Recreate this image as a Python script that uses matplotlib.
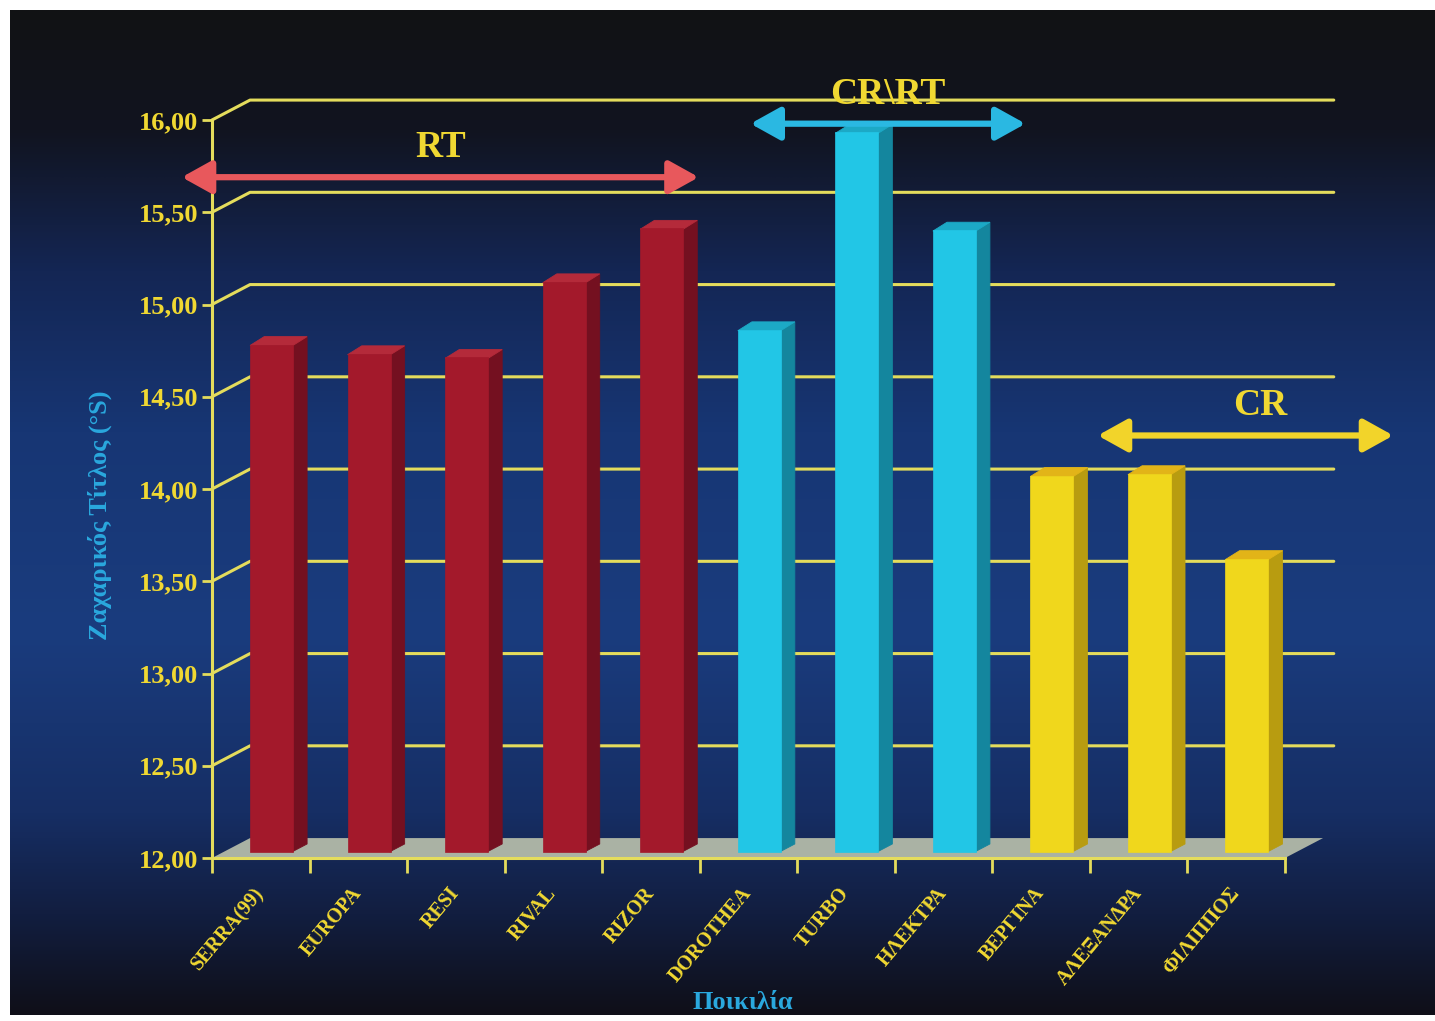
import numpy as np
import matplotlib
matplotlib.use("Agg")
import matplotlib.pyplot as plt
from matplotlib.patches import Polygon, FancyArrowPatch
from matplotlib.ticker import FuncFormatter, FixedLocator

# Data
varieties = ['SERRA(99)', 'EUROPA', 'RESI', 'RIVAL', 'RIZOR', 'DOROTHEA',
             'TURBO', 'ΗΛΕΚΤΡΑ', 'ΒΕΡΓΙΝΑ', 'ΑΛΕΞΑΝΔΡΑ', 'ΦΙΛΙΠΠΟΣ']
sugar = [14.75, 14.70, 14.68, 15.09, 15.38, 14.83, 15.90, 15.37, 14.04, 14.05, 13.59]
group = ['RT', 'RT', 'RT', 'RT', 'RT', 'CR\\RT', 'CR\\RT', 'CR\\RT', 'CR', 'CR', 'CR']
y_ticks = [12.0, 12.5, 13.0, 13.5, 14.0, 14.5, 15.0, 15.5, 16.0]

# group ranges shown by the arrows: (label, x start, x end, y level)
arrow_groups = [('RT', -0.81, 4.49, 15.69),
                ('CR\\RT', 5.02, 7.84, 15.98),
                ('CR', 8.58, 11.61, 14.29)]

face = {'RT': '#A3192B', 'CR\\RT': '#22C6E6', 'CR': '#F0D71C'}
side = {'RT': '#741020', 'CR\\RT': '#14869E', 'CR': '#B89C10'}
top = {'RT': '#B42A3A', 'CR\\RT': '#1CA9C6', 'CR': '#E2B418'}
arrow_col = {'RT': '#E8585C', 'CR\\RT': '#2AB8E2', 'CR': '#F2D42A'}

YEL = '#F0D832'
GRID = '#E4DC5C'
CYAN = '#2AA8DE'
FONT = 'Liberation Serif'

W, H = 1435, 1021
fig = plt.figure(figsize=(W / 100, H / 100), dpi=100, facecolor='white')

# slide background: dark top, blue middle, dark bottom
bg = fig.add_axes([10 / W, 6 / H, 1425 / W, 1005 / H])
rows = np.linspace(0, 1, 400)
stops = [0.0, 0.12, 0.26, 0.42, 0.62, 0.8, 0.9, 1.0]
cols = np.array([[18, 18, 20], [17, 20, 32], [20, 38, 84], [23, 54, 116],
                 [26, 60, 126], [22, 46, 100], [18, 30, 64], [15, 15, 24]]) / 255
grad = np.stack([np.interp(rows, stops, cols[:, k]) for k in range(3)], axis=1)
bg.imshow(np.repeat(grad[:, None, :], 4, axis=1), aspect='auto', extent=[0, 1, 0, 1])
bg.axis('off')

ax = fig.add_axes([212 / W, (H - 858) / H, (1285 - 212) / W, (858 - 120) / H])
ax.patch.set_alpha(0)
ax.set_xlim(-0.5, 10.5)
ax.set_ylim(12, 16)

# depth of the back wall and of each bar (data units)
wdx, wdy = 0.39, 0.108
bdx, bdy = 0.145, 0.043
e = 0.033

# floor and gridlines
ax.add_patch(Polygon([(-0.5, 12), (10.5, 12), (10.5 + wdx, 12 + wdy), (-0.5 + wdx, 12 + wdy)],
                     closed=True, facecolor='#AAB2A4', edgecolor='none', zorder=1, clip_on=False))
for v in y_ticks[1:]:
    ax.plot([-0.5, -0.5 + wdx, 11.0], [v, v + wdy, v + wdy], color=GRID, lw=2.2,
            zorder=1, clip_on=False, solid_capstyle='round')

# bars: front face with ax.bar, side and top faces as polygons
x = np.arange(len(varieties))
heights = np.array(sugar) - 12
for xi, v, g in zip(x, sugar, group):
    xl, xr = xi - 0.11, xi + 0.33
    ax.add_patch(Polygon([(xr - 0.01, 12 + e), (xr - 0.01, v + e), (xr + bdx, v + e + bdy),
                          (xr + bdx, 12 + e + bdy)],
                         closed=True, facecolor=side[g], edgecolor=side[g], lw=0.6,
                         zorder=3, clip_on=False))
    ax.add_patch(Polygon([(xl, v + e - 0.005), (xr, v + e - 0.005), (xr + bdx, v + e + bdy),
                          (xl + bdx, v + e + bdy)],
                         closed=True, facecolor=top[g], edgecolor=top[g], lw=0.6,
                         zorder=3, clip_on=False))
ax.bar(x - 0.11, heights, width=0.44, bottom=12 + e, align='edge',
       color=[face[g] for g in group], edgecolor=[face[g] for g in group], lw=0.5,
       zorder=4, clip_on=False)

# group arrows and labels
for name, x0, x1, ya in arrow_groups:
    arr = FancyArrowPatch((x0, ya), (x1, ya), arrowstyle='<|-|>,head_length=18,head_width=10',
                          mutation_scale=1, lw=4.5, color=arrow_col[name],
                          shrinkA=0, shrinkB=0, zorder=6, clip_on=False)
    ax.add_patch(arr)
    ax.text((x0 + x1) / 2 + (0.15 if name == 'CR' else 0), ya + 0.16, name, color=YEL,
            fontsize=27, fontweight='bold', family=FONT, ha='center', va='center',
            zorder=7, clip_on=False)

# axes styling
for s in ['top', 'right']:
    ax.spines[s].set_visible(False)
for s in ['left', 'bottom']:
    ax.spines[s].set_color(GRID)
    ax.spines[s].set_linewidth(2.2)
    ax.spines[s].set_zorder(5)

ax.yaxis.set_major_locator(FixedLocator(y_ticks))
ax.yaxis.set_major_formatter(FuncFormatter(lambda v, p: f'{v:.2f}'.replace('.', ',')))
ax.tick_params(axis='y', direction='out', length=7, width=2, color=GRID, labelcolor=YEL,
               labelsize=19, pad=3)
for lab in ax.get_yticklabels():
    lab.set_fontweight('bold')
    lab.set_family(FONT)

ax.set_xticks(np.arange(-0.5, 11, 1.0))
ax.set_xticklabels([])
ax.tick_params(axis='x', direction='out', length=11, width=2, color=GRID)

for xi, name in zip(x, varieties):
    ax.text(xi - 0.08, 11.86, name, rotation=50, rotation_mode='anchor', ha='right', va='top',
            color=YEL, fontsize=14.5, fontweight='bold', family=FONT, clip_on=False)

ax.text(-1.65, 13.86, 'Ζαχαρικός Τίτλος (°S)', rotation=90, ha='center', va='center',
        color=CYAN, fontsize=19, fontweight='bold', family=FONT, clip_on=False)
ax.text(4.94, 11.215, 'Ποικιλία', ha='center', va='center',
        color=CYAN, fontsize=19, fontweight='bold', family=FONT, clip_on=False)

fig.savefig('out.png', dpi=100, facecolor='white')
